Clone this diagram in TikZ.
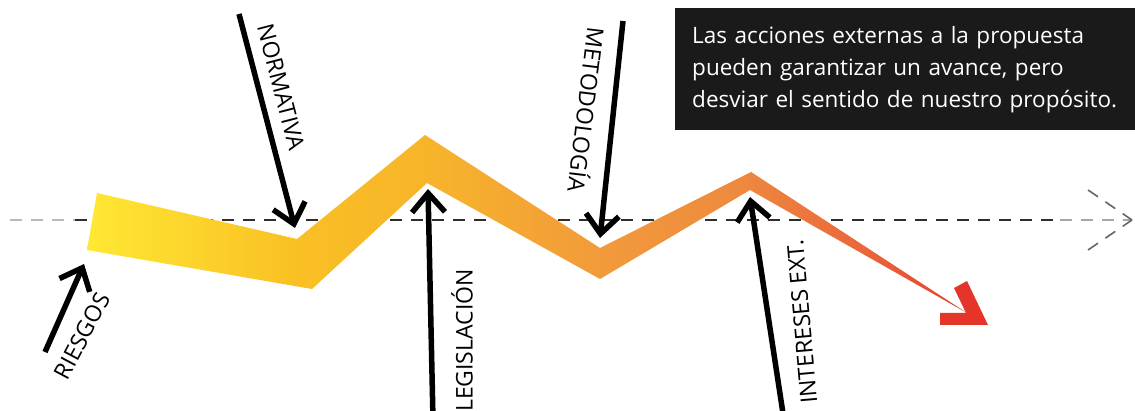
\documentclass[tikz,border=0pt]{standalone}
\usepackage{fontspec}
\setmainfont{Open Sans}
\usetikzlibrary{arrows.meta}
\definecolor{boxblack}{HTML}{1A1A1A}
\definecolor{dashgray}{HTML}{2E2E2E}
\definecolor{tipred}{HTML}{E5352A}
\definecolor{c0}{HTML}{FFE833}
\definecolor{c1}{HTML}{F9C024}
\definecolor{c2}{HTML}{F7B52A}
\definecolor{c3}{HTML}{F29C3A}
\definecolor{c4}{HTML}{EE8A3F}
\definecolor{c5}{HTML}{E9623A}
\definecolor{c6}{HTML}{E53A2B}
\pgfdeclarehorizontalshading{bandshade}{100bp}{
  color(0bp)=(c0);
  color(25bp)=(c0);
  color(36.8bp)=(c1);
  color(44bp)=(c2);
  color(53.5bp)=(c3);
  color(61.8bp)=(c4);
  color(70bp)=(c5);
  color(75bp)=(c6);
  color(100bp)=(c6)}
\tikzset{
  blackarrow/.style={line width=5.5pt, draw=black, -{Straight Barb[length=19pt,width=33pt]}},
  lbl/.style={font=\fontsize{23}{26}\selectfont, inner sep=0pt, text=black},
  infobox/.style={fill=boxblack, text=white, anchor=north west, minimum width=470pt, minimum height=122pt,
    text width=440pt, inner xsep=17pt, inner ysep=0pt, align=left, font=\fontsize{22.5}{32}\selectfont},
  guide/.style={dashgray, line width=2pt, dash pattern=on 12pt off 9pt}
}
\begin{document}
\begin{tikzpicture}[x=1pt,y=-1pt]
\clip (0,0) rectangle (1135,411);
\fill[white] (0,0) rectangle (1135,411);
% dashed guide line
\coordinate (gStart) at (10,220);
\coordinate (gEnd) at (1132,220);
\coordinate (gUp) at (1088,190);
\coordinate (gDown) at (1088,250);
\draw[guide, draw=gray!55] (gStart) -- (75,220);
\draw[guide] (75,220) -- (1060,220);
\draw[guide, draw=gray!70] (1060,220) -- (gEnd);
\draw[guide, draw=gray!80!black, line width=1.6pt] (gUp) -- (gEnd);
\draw[guide, draw=gray!80!black, line width=1.6pt] (gDown) -- (gEnd);
% band
\shade[shading=bandshade]
  (97,193) -- (297,239) -- (425,135) -- (600,248) -- (751,172) -- (967,313)
  -- (750,190) -- (600,279) -- (427,183) -- (312,289) -- (87,250) -- cycle;
% red arrow head
\fill[tipred] (940,313) -- (966,313) -- (954,288) -- (967,281) -- (988,325) -- (940,325) -- cycle;
% info box
\node[infobox] (info) at (675,8) {Las acciones externas a la propuesta\\pueden garantizar un avance, pero\\desviar el sentido de nuestro propósito.};
% arrows
\coordinate (riesgosTail) at (45,352);
\coordinate (riesgosTip) at (84,264);
\coordinate (normTail) at (239,14);
\coordinate (normTip) at (295,228);
\coordinate (legTail) at (433,420);
\coordinate (legTip) at (428,189);
\coordinate (metTail) at (623,21);
\coordinate (metTip) at (600,238);
\coordinate (intTail) at (784,420);
\coordinate (intTip) at (750,197);
\draw[blackarrow] (riesgosTail) -- (riesgosTip);
\draw[blackarrow] (normTail) -- (normTip);
\draw[blackarrow] (legTail) -- (legTip);
\draw[blackarrow] (metTail) -- (metTip);
\draw[blackarrow] (intTail) -- (intTip);
% labels
\node[lbl, rotate=62] (riesgos) at (82,336) {RIESGOS};
\node[lbl, rotate=-75.5] (normativa) at (281,87) {NORMATIVA};
\node[lbl, rotate=-97] (metodologia) at (588,110) {METODOLOGÍA};
\node[lbl, rotate=90, anchor=east] (legislacion) at (462,269) {LEGISLACIÓN};
\node[lbl, rotate=95] (intereses) at (802,322) {INTERESES EXT.};
\end{tikzpicture}
\end{document}
